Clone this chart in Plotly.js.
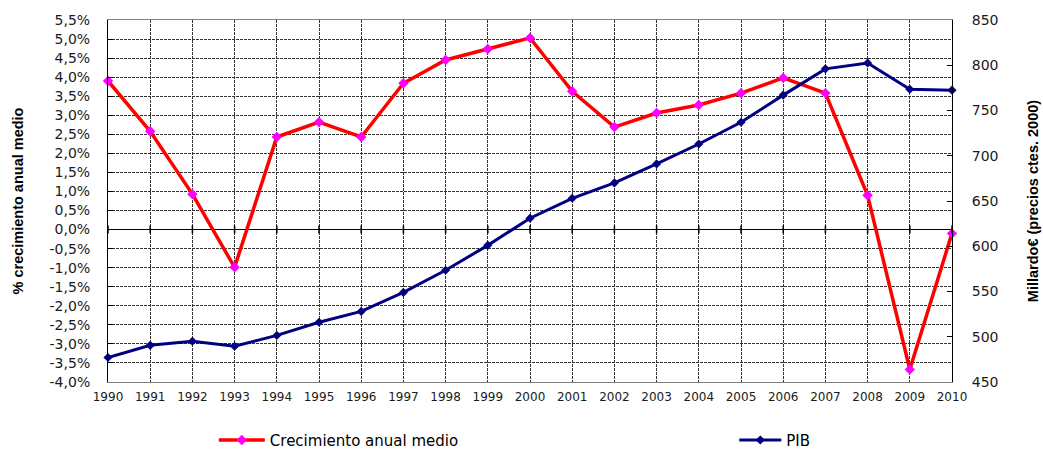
<!DOCTYPE html>
<html>
<head>
<meta charset="utf-8">
<script src="https://cdn.plot.ly/plotly-3.0.1.min.js"></script>
<style>
  html, body { margin: 0; padding: 0; background: #ffffff; }
  #chart { width: 1043px; height: 451px; }
</style>
</head>
<body>
<div id="chart"></div>
<script>
// Años del periodo
const years = [1990, 1991, 1992, 1993, 1994, 1995, 1996, 1997, 1998, 1999, 2000,
               2001, 2002, 2003, 2004, 2005, 2006, 2007, 2008, 2009, 2010];

// Crecimiento anual medio (%), eje izquierdo
const crecimiento = [3.90, 2.58, 0.93, -0.99, 2.43, 2.82, 2.43, 3.84, 4.45, 4.74, 5.03,
                     3.63, 2.69, 3.06, 3.27, 3.58, 3.98, 3.58, 0.90, -3.67, -0.10];

// PIB en millardos de euros (precios constantes 2000), eje derecho
const pib = [477, 490.5, 495, 489.5, 501.5, 516, 528, 549, 573.5, 601, 631,
             653, 670, 691, 713, 737, 767, 796, 802.5, 773.5, 772.5];

// Marcas del eje izquierdo
const pctTickVals = [-4, -3.5, -3, -2.5, -2, -1.5, -1, -0.5, 0, 0.5, 1, 1.5, 2, 2.5, 3, 3.5, 4, 4.5, 5, 5.5];
const pctTickText = ['-4,0%', '-3,5%', '-3,0%', '-2,5%', '-2,0%', '-1,5%', '-1,0%', '-0,5%', '0,0%',
                     '0,5%', '1,0%', '1,5%', '2,0%', '2,5%', '3,0%', '3,5%', '4,0%', '4,5%', '5,0%', '5,5%'];

// Marcas del eje derecho
const pibTickVals = [450, 500, 550, 600, 650, 700, 750, 800, 850];
const pibTickText = ['450', '500', '550', '600', '650', '700', '750', '800', '850'];

const tickFont = 'DejaVu Sans, Verdana, sans-serif';
const titleFont = 'Liberation Sans Narrow, Arial Narrow, Liberation Sans, sans-serif';
const gridStyle = { showgrid: true, gridcolor: '#333333', gridwidth: 1, griddash: '3px,1px' };

const traces = [
  {
    x: years, y: crecimiento, name: 'Crecimiento anual medio',
    type: 'scatter', mode: 'lines+markers', yaxis: 'y', legend: 'legend',
    line: { color: '#ff0000', width: 3.5 },
    marker: { symbol: 'diamond', size: 8, color: '#ff00ff' },
    cliponaxis: false
  },
  {
    x: years, y: pib, name: 'PIB',
    type: 'scatter', mode: 'lines+markers', yaxis: 'y2', legend: 'legend2',
    line: { color: '#000080', width: 3 },
    marker: { symbol: 'diamond', size: 7, color: '#000080' },
    cliponaxis: false
  }
];

// Pequeñas marcas que cruzan la línea del cero en cada año
const zeroTicks = years.map(yr => ({
  type: 'line', xref: 'x', yref: 'y', x0: yr, x1: yr,
  ysizemode: 'pixel', yanchor: 0, y0: -4, y1: 4,
  line: { color: '#000000', width: 1.5 }
}));

const layout = {
  width: 1043, height: 451,
  margin: { l: 108, r: 91, t: 20, b: 69 },
  paper_bgcolor: '#ffffff', plot_bgcolor: '#ffffff',
  hovermode: false,
  xaxis: Object.assign({
    range: [1990, 2010], tickvals: years, ticktext: years.map(String),
    showline: true, linecolor: '#808080', linewidth: 1, mirror: true,
    ticks: '', zeroline: false,
    tickfont: { family: tickFont, size: 12, color: '#1a1a1a' },
    ticklabelstandoff: 4
  }, gridStyle),
  yaxis: Object.assign({
    range: [-4, 5.5], tickvals: pctTickVals, ticktext: pctTickText,
    showline: true, linecolor: '#000000', linewidth: 1,
    ticks: 'inside', ticklen: 5, tickcolor: '#000000',
    zeroline: true, zerolinecolor: '#000000', zerolinewidth: 1.5,
    tickfont: { family: tickFont, size: 14, color: '#1a1a1a' },
    ticklabelstandoff: 14,
    title: { text: '% crecimiento anual medio', standoff: 22,
             font: { family: titleFont, size: 14.5, weight: 'bold', color: '#000000' } }
  }, gridStyle),
  yaxis2: {
    overlaying: 'y', side: 'right',
    range: [450, 850], tickvals: pibTickVals, ticktext: pibTickText,
    showgrid: false, zeroline: false,
    showline: true, linecolor: '#000000', linewidth: 1,
    ticks: 'inside', ticklen: 5, tickcolor: '#000000',
    tickfont: { family: tickFont, size: 14, color: '#1a1a1a' },
    ticklabelstandoff: 16,
    title: { text: 'Millardo€ (precios ctes. 2000)', standoff: 30,
             font: { family: titleFont, size: 14.5, weight: 'bold', color: '#000000' } }
  },
  showlegend: true,
  legend: {
    xref: 'container', yref: 'container', x: 0.205, y: 0.024,
    xanchor: 'left', yanchor: 'middle', orientation: 'h',
    itemwidth: 46, bgcolor: 'rgba(0,0,0,0)',
    font: { family: tickFont, size: 15, color: '#000000' }
  },
  legend2: {
    xref: 'container', yref: 'container', x: 0.704, y: 0.024,
    xanchor: 'left', yanchor: 'middle', orientation: 'h',
    itemwidth: 42, bgcolor: 'rgba(0,0,0,0)',
    font: { family: tickFont, size: 15, color: '#000000' }
  },
  shapes: zeroTicks
};

Plotly.newPlot('chart', traces, layout, { staticPlot: true, displayModeBar: false });
</script>
</body>
</html>
